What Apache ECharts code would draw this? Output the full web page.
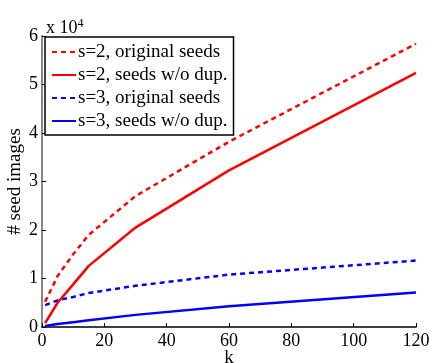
<!DOCTYPE html>
<html>
<head>
<meta charset="utf-8">
<script src="https://cdn.jsdelivr.net/npm/echarts@6/dist/echarts.min.js"></script>
<style>
  html, body { margin: 0; padding: 0; background: #fff; }
  #chart { width: 434px; height: 363px; }
</style>
</head>
<body>
<div id="chart"></div>
<script>
// k values and number of seed images
const kValues = [1, 5, 10, 15, 30, 60, 120];
const s2Original = [5200, 10500, 15000, 19000, 27000, 38200, 58400];
const s2NoDup = [800, 5000, 8800, 12600, 20500, 32300, 52400];
const s3Original = [4500, 5500, 6200, 7000, 8500, 10800, 13700];
const s3NoDup = [200, 600, 1000, 1400, 2500, 4300, 7100];
const seriesNames = [
  's=2, original seeds',
  's=2, seeds w/o dup.',
  's=3, original seeds',
  's=3, seeds w/o dup.'
];
const yTicks = [0, 1, 2, 3, 4, 5, 6];

const FONT = '"Liberation Serif", "DejaVu Serif", serif';

function pairs(ys) {
  return kValues.map((k, i) => [k, ys[i]]);
}

function line(name, ys, color, dashed) {
  return {
    name,
    type: 'line',
    data: pairs(ys),
    symbol: 'none',
    smooth: false,
    lineStyle: { color, width: 2.5, type: dashed ? [5, 4] : 'solid' },
    itemStyle: { color },
    z: dashed ? 2 : 3
  };
}

const chart = echarts.init(document.getElementById('chart'));
chart.setOption({
  animation: false,
  title: {
    text: 'x 10{sup|4}',
    left: 41,
    top: 13,
    textStyle: {
      fontFamily: FONT, fontSize: 18, fontWeight: 'normal', color: '#000',
      rich: { sup: { fontFamily: FONT, fontSize: 12, verticalAlign: 'top', padding: [0, 0, 9, 0], color: '#000' } }
    }
  },
  grid: { left: 42, right: 18, top: 36, bottom: 36, containLabel: false, outerBoundsMode: 'none' },
  legend: {
    orient: 'vertical',
    left: 45,
    top: 37,
    data: seriesNames,
    itemWidth: 24,
    itemHeight: 22,
    itemGap: 1,
    padding: [4, 6, 3, 6],
    backgroundColor: '#fff',
    borderColor: '#000',
    borderWidth: 1.5,
    itemStyle: { opacity: 0 },
    textStyle: { fontFamily: FONT, fontSize: 19, color: '#000', padding: [0, 0, 0, -3], lineHeight: 22 }
  },
  xAxis: {
    type: 'value',
    min: 0,
    max: 120,
    interval: 20,
    name: 'k',
    nameLocation: 'middle',
    nameGap: 22,
    nameMoveOverlap: false,
    nameTextStyle: { fontFamily: FONT, fontSize: 19, color: '#000' },
    axisLine: { lineStyle: { color: '#000', width: 1.5 } },
    axisTick: { inside: true, length: 4, lineStyle: { color: '#000' } },
    axisLabel: { fontFamily: FONT, fontSize: 18, color: '#000', margin: 5 },
    splitLine: { show: false }
  },
  yAxis: {
    type: 'value',
    min: 0,
    max: 60000,
    interval: 10000,
    name: '# seed images',
    nameLocation: 'middle',
    nameGap: 17,
    nameMoveOverlap: false,
    nameTextStyle: { fontFamily: FONT, fontSize: 19, color: '#000' },
    axisLine: { show: true, lineStyle: { color: '#888', width: 2 } },
    axisTick: { show: true, inside: true, length: 4, lineStyle: { color: '#000' } },
    axisLabel: {
      fontFamily: FONT, fontSize: 18, color: '#000', margin: 4,
      formatter: v => String(yTicks[Math.round(v / 10000)])
    },
    splitLine: { show: false }
  },
  series: [
    line(seriesNames[0], s2Original, '#ff0000', true),
    line(seriesNames[1], s2NoDup, '#ff0000', false),
    line(seriesNames[2], s3Original, '#0000ff', true),
    line(seriesNames[3], s3NoDup, '#0000ff', false)
  ]
});
</script>
</body>
</html>
